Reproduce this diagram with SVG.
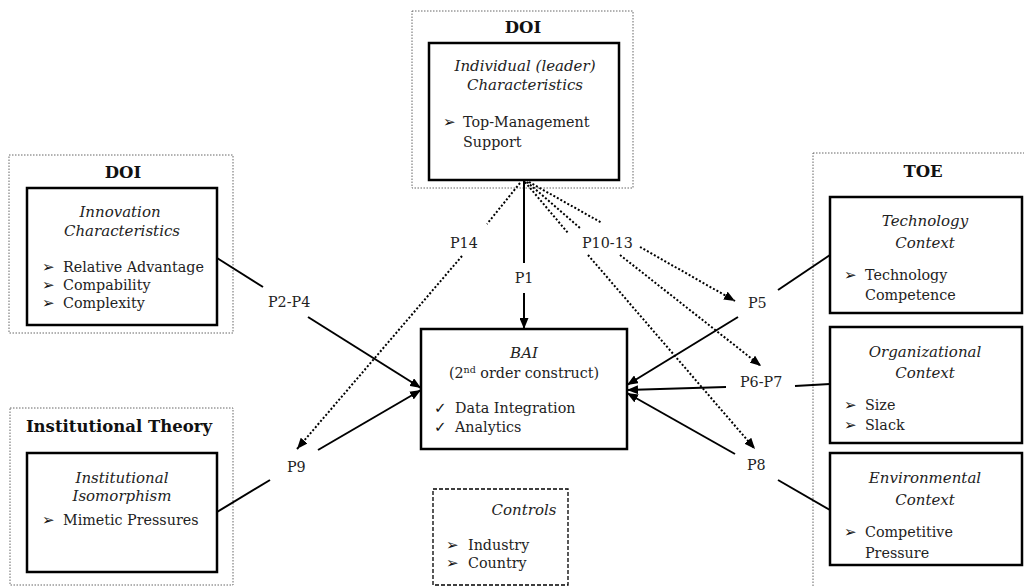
<svg xmlns="http://www.w3.org/2000/svg" width="1024" height="586" viewBox="0 0 1024 586">
<defs>
<marker id="ah" markerUnits="userSpaceOnUse" markerWidth="11" markerHeight="9" refX="11" refY="4.5" orient="auto">
<path d="M0,0 L11,4.5 L0,9 z" fill="#000"/>
</marker>
<style>
text{font-family:"DejaVu Serif","Liberation Serif",serif;font-size:14.3px;fill:#222}
.it{font-style:italic;font-size:15px}
.c{text-anchor:middle}
.t{font-weight:bold;font-size:16.5px;fill:#111}
.b{font-family:"DejaVu Sans",sans-serif;font-size:15px;fill:#111}
.k{font-family:"DejaVu Sans",sans-serif;font-size:15px;fill:#111}
.outer{fill:none;stroke:#666;stroke-width:1;stroke-dasharray:1.5 1.5}
.box{fill:#fff;stroke:#000;stroke-width:2.5}
.ctrl{fill:none;stroke:#000;stroke-width:1.3;stroke-dasharray:4 2}
.s{stroke:#000;stroke-width:2;fill:none}
.d{stroke:#000;stroke-width:2;fill:none;stroke-dasharray:2 2}
</style>
</defs>
<rect width="1024" height="586" fill="#fff"/>

<g id="doi-top">
<rect class="outer" x="412" y="11" width="221" height="177"/>
<text class="t c" x="523" y="33">DOI</text>
<rect class="box" x="429" y="43" width="190" height="137"/>
<text class="it c" x="525" y="71">Individual (leader)</text>
<text class="it c" x="525" y="90">Characteristics</text>
<text class="b" x="443" y="127">➢</text>
<text x="463" y="127">Top-Management</text>
<text x="463" y="147">Support</text>
</g>

<g id="doi-left">
<rect class="outer" x="9" y="155" width="224" height="178"/>
<text class="t c" x="123" y="178">DOI</text>
<rect class="box" x="27" y="188" width="190" height="137"/>
<text class="it c" x="120" y="217">Innovation</text>
<text class="it c" x="122" y="236">Characteristics</text>
<text class="b" x="42" y="272">➢</text>
<text x="63" y="272">Relative Advantage</text>
<text class="b" x="42" y="290">➢</text>
<text x="63" y="290">Compability</text>
<text class="b" x="42" y="308">➢</text>
<text x="63" y="308">Complexity</text>
</g>

<g id="institutional">
<rect class="outer" x="10" y="408" width="223" height="177"/>
<text class="t c" x="119" y="432">Institutional Theory</text>
<rect class="box" x="27" y="453" width="190" height="119"/>
<text class="it c" x="122" y="483">Institutional</text>
<text class="it c" x="122" y="501">Isomorphism</text>
<text class="b" x="42" y="525">➢</text>
<text x="63" y="525">Mimetic Pressures</text>
</g>

<g id="toe">
<rect class="outer" x="813" y="153" width="230" height="450"/>
<text class="t c" x="923" y="177">TOE</text>
</g>

<g id="technology">
<rect class="box" x="830" y="197" width="192" height="116"/>
<text class="it c" x="925" y="226">Technology</text>
<text class="it c" x="925" y="248">Context</text>
<text class="b" x="844" y="280">➢</text>
<text x="865" y="280">Technology</text>
<text x="865" y="300">Competence</text>
</g>

<g id="organizational">
<rect class="box" x="830" y="327" width="192" height="116"/>
<text class="it c" x="925" y="357">Organizational</text>
<text class="it c" x="925" y="378">Context</text>
<text class="b" x="844" y="410">➢</text>
<text x="865" y="410">Size</text>
<text class="b" x="844" y="430">➢</text>
<text x="865" y="430">Slack</text>
</g>

<g id="environmental">
<rect class="box" x="830" y="453" width="192" height="112"/>
<text class="it c" x="925" y="483">Environmental</text>
<text class="it c" x="925" y="505">Context</text>
<text class="b" x="844" y="537">➢</text>
<text x="865" y="537">Competitive</text>
<text x="865" y="558">Pressure</text>
</g>

<g id="bai">
<rect class="box" x="421" y="329" width="206" height="120"/>
<text class="it c" x="524" y="358">BAI</text>
<text class="c" x="524" y="378">(2<tspan font-size="9.5" dy="-5">nd</tspan><tspan dy="5"> order construct)</tspan></text>
<text class="k" x="434" y="413">✓</text>
<text x="455" y="413">Data Integration</text>
<text class="k" x="434" y="432">✓</text>
<text x="455" y="432">Analytics</text>
</g>

<g id="controls">
<rect class="ctrl" x="433" y="489" width="135" height="96"/>
<text class="it c" x="524" y="515">Controls</text>
<text class="b" x="446" y="550">➢</text>
<text x="468" y="550">Industry</text>
<text class="b" x="446" y="568">➢</text>
<text x="468" y="568">Country</text>
</g>

<g id="connectors">
<line class="s" x1="524" y1="180" x2="524" y2="263"/>
<line class="s" x1="524" y1="293" x2="524" y2="329" marker-end="url(#ah)"/>
<line class="s" x1="217" y1="258" x2="263" y2="287"/>
<line class="s" x1="308" y1="317" x2="421" y2="388" marker-end="url(#ah)"/>
<line class="s" x1="217" y1="512" x2="270" y2="480"/>
<line class="s" x1="318" y1="450" x2="421" y2="390" marker-end="url(#ah)"/>
<line class="s" x1="830" y1="255" x2="778" y2="290"/>
<line class="s" x1="738" y1="317" x2="627" y2="385" marker-end="url(#ah)"/>
<line class="s" x1="830" y1="384" x2="795" y2="386"/>
<line class="s" x1="726" y1="387" x2="627" y2="390" marker-end="url(#ah)"/>
<line class="s" x1="830" y1="510" x2="778" y2="480"/>
<line class="s" x1="735" y1="454" x2="627" y2="393" marker-end="url(#ah)"/>
<line class="d" x1="520" y1="183" x2="487" y2="224"/>
<line class="d" x1="462" y1="256" x2="297" y2="449" marker-end="url(#ah)"/>
<line class="d" x1="525" y1="182" x2="568" y2="233"/>
<line class="d" x1="527" y1="182" x2="580" y2="228"/>
<line class="d" x1="529" y1="182" x2="602" y2="223"/>
<line class="d" x1="588" y1="255" x2="755" y2="449" marker-end="url(#ah)"/>
<line class="d" x1="620" y1="255" x2="761" y2="366" marker-end="url(#ah)"/>
<line class="d" x1="640" y1="247" x2="735" y2="301" marker-end="url(#ah)"/>
<text x="450" y="248">P14</text>
<text x="582" y="248">P10-13</text>
<text class="c" x="524" y="283">P1</text>
<text x="268" y="307">P2-P4</text>
<text x="748" y="308">P5</text>
<text x="740" y="387">P6-P7</text>
<text x="747" y="470">P8</text>
<text x="287" y="472">P9</text>
</g>
</svg>
